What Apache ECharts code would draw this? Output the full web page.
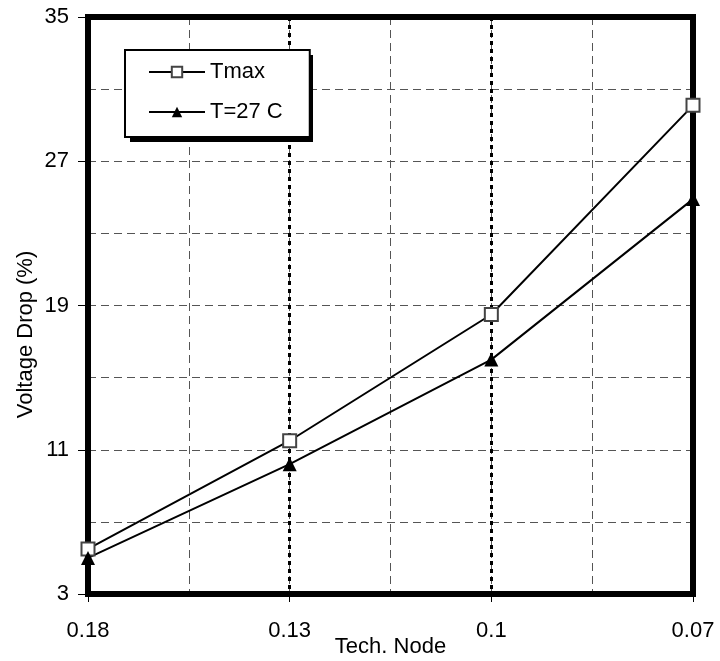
<!DOCTYPE html>
<html>
<head>
<meta charset="utf-8">
<script src="https://cdn.jsdelivr.net/npm/echarts@6/dist/echarts.min.js"></script>
<style>
html,body{margin:0;padding:0;background:#fff;}
#main{width:720px;height:661px;}
</style>
</head>
<body>
<div id="main"></div>
<script>
// data
var nodes = ['0.18', '0.13', '0.1', '0.07'];
var tmax = [5.5, 11.5, 18.5, 30.1];
var t27 = [5.0, 10.2, 16.0, 24.9];

var font = 'Liberation Sans, Arial, sans-serif';
var gray = '#555';

var myChart = echarts.init(document.getElementById('main'));
var option = {
    animation: false,
    backgroundColor: '#fff',
    grid: {
        left: 88, right: 27, top: 17, bottom: 67,
        outerBoundsMode: 'none',
        containLabel: false,
        show: true, borderColor: '#000', borderWidth: 6, z: 5
    },
    // drop shadow behind the legend box
    graphic: [{
        type: 'rect',
        shape: {x: 130, y: 55, width: 183, height: 87},
        style: {fill: '#000'},
        z: 3.5,
        silent: true
    }],
    legend: {
        orient: 'vertical',
        left: 125, top: 50,
        padding: [11, 27, 14, 23],
        itemGap: 18,
        itemWidth: 56,
        itemHeight: 13,
        backgroundColor: '#fff',
        borderColor: '#000',
        borderWidth: 2,
        borderRadius: 0,
        z: 4,
        textStyle: {fontFamily: font, fontSize: 22, color: '#000'},
        data: ['Tmax', 'T=27 C']
    },
    xAxis: [{
        type: 'category',
        data: nodes,
        boundaryGap: false,
        name: 'Tech. Node',
        nameLocation: 'middle',
        nameGap: 42,
        nameMoveOverlap: false,
        nameTextStyle: {fontFamily: font, fontSize: 22, color: '#000'},
        axisLine: {show: false},
        axisTick: {show: true, length: 8, lineStyle: {color: '#000', width: 1}},
        axisLabel: {fontFamily: font, fontSize: 22, color: '#000', margin: 26},
        splitLine: {show: true, lineStyle: {color: '#000', width: 3, type: [4, 4]}},
        z: 3
    }, {
        type: 'value',
        min: 0, max: 3, interval: 0.5,
        show: true,
        axisLine: {show: false},
        axisTick: {show: false},
        axisLabel: {show: false},
        splitLine: {show: true, lineStyle: {color: gray, width: 1, type: [8, 5]}},
        z: 1
    }],
    yAxis: {
        type: 'value',
        min: 3, max: 35, interval: 8,
        name: 'Voltage Drop (%)',
        nameLocation: 'middle',
        nameGap: 51,
        nameMoveOverlap: false,
        nameTextStyle: {fontFamily: font, fontSize: 22, color: '#000', padding: [0, 58, 0, 0]},
        axisLine: {show: false},
        axisTick: {show: true, length: 10, lineStyle: {color: '#000', width: 1}},
        axisLabel: {fontFamily: font, fontSize: 22, color: '#000', margin: 19},
        splitLine: {show: true, lineStyle: {color: gray, width: 1, type: [8, 5]}},
        minorTick: {show: false, splitNumber: 2},
        minorSplitLine: {show: true, lineStyle: {color: gray, width: 1, type: [8, 5]}}
    },
    series: [{
        name: 'Tmax',
        type: 'line',
        data: tmax,
        symbol: 'rect',
        symbolSize: 13,
        showAllSymbol: true,
        lineStyle: {color: '#000', width: 2},
        itemStyle: {color: '#fff', borderColor: '#444', borderWidth: 2},
        z: 10
    }, {
        name: 'T=27 C',
        type: 'line',
        data: t27,
        symbol: 'triangle',
        symbolSize: 14,
        showAllSymbol: true,
        lineStyle: {color: '#000', width: 2},
        itemStyle: {color: '#000', borderColor: '#000', borderWidth: 0},
        z: 10
    }]
};
myChart.setOption(option);
</script>
</body>
</html>
